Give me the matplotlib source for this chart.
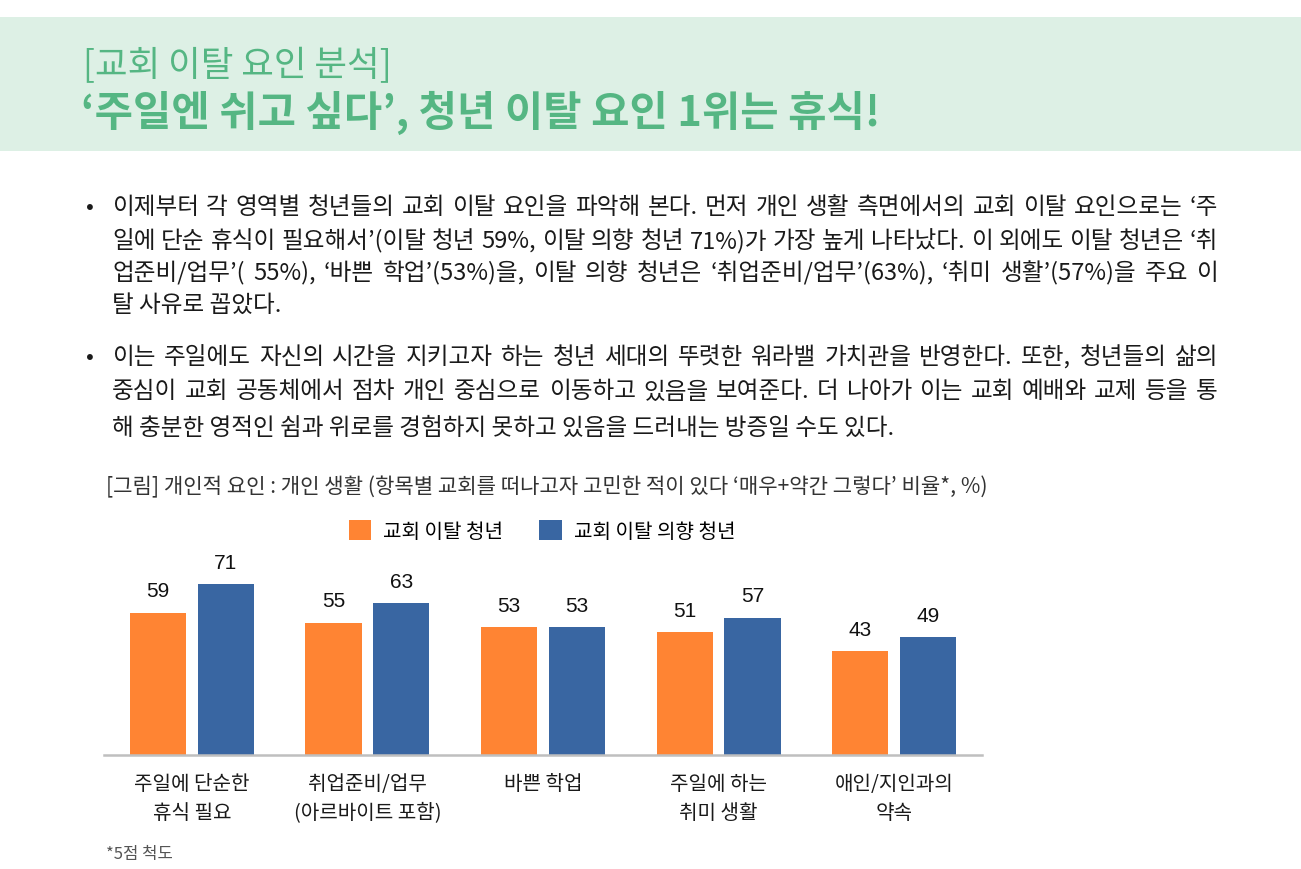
import matplotlib
matplotlib.use("Agg")
import matplotlib.pyplot as plt
from matplotlib.patches import Rectangle

plt.rcParams['font.family'] = ['Noto Sans CJK KR', 'DejaVu Sans']

# data
categories = ["주일에 단순한\n휴식 필요", "취업준비/업무\n(아르바이트 포함)", "바쁜 학업",
              "주일에 하는\n취미 생활", "애인/지인과의\n약속"]
left_youth = [59, 55, 53, 51, 43]          # 교회 이탈 청년
intend_youth = [71, 63, 53, 57, 49]        # 교회 이탈 의향 청년
series_names = ["교회 이탈 청년", "교회 이탈 의향 청년"]

title_small = "[교회 이탈 요인 분석]"
title_big = "‘주일엔 쉬고 싶다’, 청년 이탈 요인 1위는 휴식!"

para1 = ["이제부터 각 영역별 청년들의 교회 이탈 요인을 파악해 본다. 먼저 개인 생활 측면에서의 교회 이탈 요인으로는 ‘주",
         "일에 단순 휴식이 필요해서’(이탈 청년 59%, 이탈 의향 청년 71%)가 가장 높게 나타났다. 이 외에도 이탈 청년은 ‘취",
         "업준비/업무’( 55%), ‘바쁜 학업’(53%)을, 이탈 의향 청년은 ‘취업준비/업무’(63%), ‘취미 생활’(57%)을 주요 이",
         "탈 사유로 꼽았다."]
para2 = ["이는 주일에도 자신의 시간을 지키고자 하는 청년 세대의 뚜렷한 워라밸 가치관을 반영한다. 또한, 청년들의 삶의",
         "중심이 교회 공동체에서 점차 개인 중심으로 이동하고 있음을 보여준다. 더 나아가 이는 교회 예배와 교제 등을 통",
         "해 충분한 영적인 쉼과 위로를 경험하지 못하고 있음을 드러내는 방증일 수도 있다."]

fig_caption = "[그림] 개인적 요인 : 개인 생활 (항목별 교회를 떠나고자 고민한 적이 있다 ‘매우+약간 그렇다’ 비율*, %)"
footnote = "*5점 척도"

ORANGE = "#FF8433"
BLUE = "#3966A2"
GREEN = "#55b683"

W, H = 1301, 870
fig = plt.figure(figsize=(W / 100, H / 100), dpi=100)
renderer = fig.canvas.get_renderer()


def fx(x):
    return x / W


def fy(y):
    return 1 - y / H


# header band
fig.patches.append(Rectangle((0, fy(152)), 1, 134 / H, transform=fig.transFigure,
                             facecolor="#ddf0e5", edgecolor="none", zorder=0))
fig.text(fx(83), fy(66), title_small, fontsize=25.5, color=GREEN, va="center")
fig.text(fx(81), fy(113), title_big, fontsize=30, color=GREEN, va="center", fontweight="bold")


def put_line(s, x0, x1, y, justify=True, **kw):
    # spread the words so the line ends at x1 (justified body text)
    words = s.split(" ")
    if not justify or len(words) < 2:
        fig.text(fx(x0), fy(y), s, va="center", **kw)
        return
    ts = [fig.text(0, fy(y), w, va="center", **kw) for w in words]
    ws = [t.get_window_extent(renderer).width for t in ts]
    gap = (x1 - x0 - sum(ws)) / (len(words) - 1)
    x = x0
    for t, w in zip(ts, ws):
        t.set_x(fx(x))
        x += w + gap


body_kw = dict(fontsize=17, color="#1a1a1a")
for para, ys in [(para1, [208, 241, 273, 305]), (para2, [357, 392, 428])]:
    fig.text(fx(86), fy(ys[0]), "•", va="center", **body_kw)
    for i, (line, y) in enumerate(zip(para, ys)):
        put_line(line, 112, 1218, y, justify=(i < len(para) - 1), **body_kw)

fig.text(fx(106), fy(487), fig_caption, fontsize=15.2, color="#333333", va="center")
fig.text(fx(106), fy(855), footnote, fontsize=12, color="#555555", va="center")

# chart
ax = fig.add_axes([fx(104), fy(756), fx(982) - fx(104), (756 - 563.4) / H])
x = list(range(len(categories)))
bw = 0.32
off = 0.193
b1 = ax.bar([i - off for i in x], left_youth, bw, color=ORANGE, label=series_names[0])
b2 = ax.bar([i + off for i in x], intend_youth, bw, color=BLUE, label=series_names[1])
for bars, vals in [(b1, left_youth), (b2, intend_youth)]:
    for bar, v in zip(bars, vals):
        ax.annotate(str(v), (bar.get_x() + bar.get_width() / 2, v), xytext=(0, 9),
                    textcoords="offset points", ha="center", va="bottom",
                    fontsize=15, color="#111111", family=["Liberation Sans", "DejaVu Sans"])

ax.set_xlim(-0.5, len(categories) - 0.5)
ax.set_ylim(0, 80)
ax.set_yticks([])
ax.set_xticks(x)
ax.set_xticklabels(categories, fontsize=14.5, color="#1a1a1a", linespacing=1.5)
ax.tick_params(axis="x", length=0, pad=13)
for s in ["top", "left", "right"]:
    ax.spines[s].set_visible(False)
ax.spines["bottom"].set_color("#bfbfbf")
ax.spines["bottom"].set_linewidth(1.8)

ax.legend(loc="center", bbox_to_anchor=(fx(542), fy(532)), bbox_transform=fig.transFigure,
          ncol=2, frameon=False, fontsize=14.5, handlelength=1.1, handleheight=1.1,
          handletextpad=0.6, columnspacing=1.8)

fig.savefig("out.png", dpi=100)
